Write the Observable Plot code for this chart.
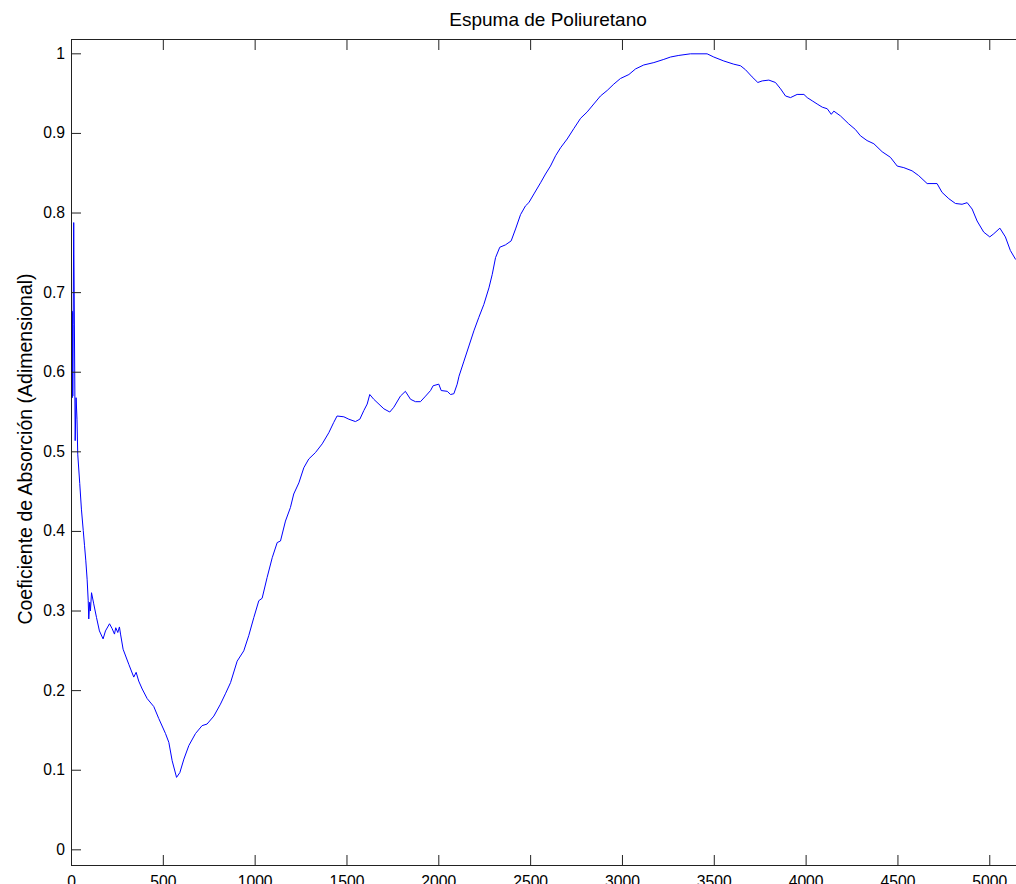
<!DOCTYPE html>
<html>
<head>
<meta charset="utf-8">
<script src="https://cdn.jsdelivr.net/npm/d3@7"></script>
<script src="https://cdn.jsdelivr.net/npm/@observablehq/plot@0.6"></script>
<style>
  html, body { margin: 0; padding: 0; background: #fff; overflow: hidden; }
</style>
</head>
<body>
<script>
// Absorption coefficient of polyurethane foam versus frequency (Hz)
const titulo = "Espuma de Poliuretano";
const etiquetaY = "Coeficiente de Absorción (Adimensional)";

const frecuencia = [
  1, 3, 4, 6, 7, 9, 12, 20, 25, 30, 34, 45, 54, 64, 71, 78, 85, 91, 94, 99,
  103, 109, 121, 136, 152, 172, 185, 207, 221, 234, 241, 252, 261, 267, 281, 312, 339, 352, 366, 385,
  412, 448, 475, 512, 530, 548, 572, 590, 612, 639, 675, 711, 738, 775, 811, 838, 866, 902, 938, 965,
  993, 1020, 1038, 1065, 1093, 1120, 1138, 1165, 1192, 1210, 1238, 1265, 1292, 1328, 1365, 1401, 1428, 1446, 1483, 1510,
  1546, 1570, 1592, 1610, 1624, 1646, 1701, 1733, 1755, 1791, 1818, 1846, 1873, 1900, 1928, 1955, 1969, 2000, 2013, 2046,
  2064, 2082, 2100, 2110, 2137, 2164, 2191, 2218, 2245, 2273, 2291, 2309, 2332, 2363, 2394, 2418, 2445, 2472, 2490, 2518,
  2554, 2581, 2608, 2636, 2663, 2699, 2735, 2772, 2808, 2844, 2880, 2917, 2953, 2989, 3035, 3071, 3116, 3171, 3225, 3262,
  3307, 3370, 3461, 3497, 3552, 3606, 3643, 3670, 3706, 3737, 3761, 3797, 3833, 3861, 3888, 3915, 3951, 3988, 4006, 4033,
  4060, 4088, 4115, 4137, 4151, 4187, 4232, 4268, 4296, 4332, 4369, 4414, 4459, 4496, 4532, 4577, 4613, 4659, 4713, 4740,
  4777, 4813, 4849, 4877, 4904, 4931, 4967, 5000, 5022, 5055, 5085, 5112, 5140
];

const absorcion = [
  0.570, 0.677, 0.568, 0.675, 0.570, 0.660, 0.788, 0.514, 0.568, 0.541, 0.497, 0.460, 0.428, 0.401, 0.382, 0.363, 0.340, 0.313, 0.290, 0.311,
  0.300, 0.323, 0.309, 0.292, 0.275, 0.265, 0.275, 0.284, 0.278, 0.271, 0.279, 0.273, 0.280, 0.271, 0.252, 0.233, 0.217, 0.223, 0.212, 0.202,
  0.190, 0.180, 0.165, 0.146, 0.135, 0.112, 0.091, 0.097, 0.114, 0.131, 0.146, 0.156, 0.158, 0.168, 0.183, 0.196, 0.210, 0.237, 0.250, 0.269,
  0.292, 0.313, 0.316, 0.342, 0.367, 0.386, 0.388, 0.413, 0.430, 0.447, 0.461, 0.480, 0.491, 0.499, 0.510, 0.524, 0.537, 0.545, 0.544, 0.541,
  0.538, 0.541, 0.552, 0.560, 0.572, 0.566, 0.554, 0.550, 0.556, 0.570, 0.576, 0.566, 0.563, 0.563, 0.570, 0.577, 0.583, 0.585, 0.577, 0.576,
  0.572, 0.573, 0.585, 0.595, 0.614, 0.633, 0.652, 0.669, 0.685, 0.706, 0.723, 0.744, 0.757, 0.760, 0.765, 0.780, 0.798, 0.809, 0.813, 0.824,
  0.838, 0.849, 0.859, 0.872, 0.882, 0.893, 0.906, 0.919, 0.927, 0.937, 0.947, 0.954, 0.962, 0.969, 0.974, 0.981, 0.986, 0.989, 0.993, 0.996,
  0.998, 1.000, 1.000, 0.996, 0.991, 0.987, 0.985, 0.980, 0.971, 0.964, 0.966, 0.967, 0.964, 0.956, 0.947, 0.945, 0.949, 0.949, 0.945, 0.941,
  0.937, 0.933, 0.931, 0.924, 0.928, 0.922, 0.912, 0.905, 0.897, 0.891, 0.887, 0.877, 0.870, 0.859, 0.857, 0.853, 0.847, 0.837, 0.837, 0.826,
  0.818, 0.812, 0.811, 0.813, 0.805, 0.790, 0.776, 0.770, 0.774, 0.781, 0.770, 0.753, 0.742
];

const ticksX = [0, 500, 1000, 1500, 2000, 2500, 3000, 3500, 4000, 4500, 5000];
const ticksY = [0, 0.1, 0.2, 0.3, 0.4, 0.5, 0.6, 0.7, 0.8, 0.9, 1];

const datos = frecuencia.map((f, i) => ({f, a: absorcion[i]}));

const axisColor = "#222";
const fmt = d => String(d);

const chart = Plot.plot({
  width: 1046,
  height: 905,
  marginLeft: 71,
  marginRight: 20,
  marginTop: 39,
  marginBottom: 40,
  x: {domain: [0, 5200]},
  y: {domain: [-0.0197, 1.018]},
  style: {
    fontFamily: "'Liberation Sans', Arial, sans-serif",
    fontSize: "15.7px",
    color: "#000",
    background: "#fff",
    maxWidth: "none",
    overflow: "visible"
  },
  marks: [
    Plot.line(datos, {x: "f", y: "a", stroke: "#0000ff", strokeWidth: 1}),
    Plot.frame({stroke: axisColor, strokeWidth: 1}),
    Plot.axisX({anchor: "bottom", ticks: ticksX, tickFormat: fmt, tickSize: -10, tickPadding: 20, label: null, stroke: axisColor, fill: "#000"}),
    Plot.axisX({anchor: "top", ticks: ticksX, tickFormat: () => "", tickSize: -10, label: null, stroke: axisColor}),
    Plot.axisY({anchor: "left", ticks: ticksY, tickFormat: fmt, tickSize: -10, tickPadding: 16.5, label: null, stroke: axisColor, fill: "#000"}),
    Plot.axisY({anchor: "right", ticks: ticksY, tickFormat: () => "", tickSize: -10, label: null, stroke: axisColor}),
    Plot.text([titulo], {frameAnchor: "top", dy: -20, dx: -1, textAnchor: "middle", lineAnchor: "middle", fontSize: 19, fill: "#000"}),
    Plot.text([etiquetaY], {frameAnchor: "left", rotate: -90, dx: -45.7, dy: -3.5, textAnchor: "middle", lineAnchor: "middle", fontSize: 19.5, fill: "#000"})
  ]
});

document.body.appendChild(chart);
</script>
</body>
</html>
